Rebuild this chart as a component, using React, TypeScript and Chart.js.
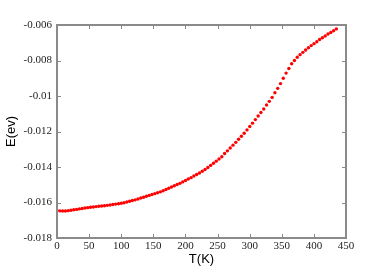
import React, { useEffect, useRef } from "react";
import { Chart, registerables } from "chart.js";

Chart.register(...registerables);

const temperatures: number[] = [
  0, 4.35, 8.7, 13.05, 17.4, 21.75, 26.1, 30.45, 34.8, 39.15,
  43.5, 47.85, 52.2, 56.55, 60.9, 65.25, 69.6, 73.95, 78.3, 82.65,
  87.0, 91.35, 95.7, 100.05, 104.4, 108.75, 113.1, 117.45, 121.8, 126.15,
  130.5, 134.85, 139.2, 143.55, 147.9, 152.25, 156.6, 160.95, 165.3, 169.65,
  174.0, 178.35, 182.7, 187.05, 191.4, 195.75, 200.1, 204.45, 208.8, 213.15,
  217.5, 221.85, 226.2, 230.55, 234.9, 239.25, 243.6, 247.95, 252.3, 256.65,
  261.0, 265.35, 269.7, 274.05, 278.4, 282.75, 287.1, 291.45, 295.8, 300.15,
  304.5, 308.85, 313.2, 317.55, 321.9, 326.25, 330.6, 334.95, 339.3, 343.65,
  348.0, 352.35, 356.7, 361.05, 365.4, 369.75, 374.1, 378.45, 382.8, 387.15,
  391.5, 395.85, 400.2, 404.55, 408.9, 413.25, 417.6, 421.95, 426.3, 430.65,
  435.0,
];

const energies: number[] = [
  -0.01645, -0.01647, -0.01648, -0.01648, -0.01646, -0.01644, -0.01641, -0.01639, -0.01636, -0.01634,
  -0.01631, -0.01629, -0.01627, -0.01625, -0.01623, -0.01621, -0.0162, -0.01618, -0.01616, -0.01614,
  -0.01611, -0.01609, -0.01607, -0.01604, -0.01601, -0.01597, -0.01593, -0.01589, -0.01585, -0.0158,
  -0.01575, -0.0157, -0.01565, -0.0156, -0.01555, -0.0155, -0.01545, -0.0154, -0.01534, -0.01527,
  -0.0152, -0.01513, -0.01506, -0.01499, -0.01492, -0.01484, -0.01476, -0.01468, -0.0146, -0.01451,
  -0.01442, -0.01434, -0.01424, -0.01414, -0.01403, -0.01391, -0.01379, -0.01367, -0.01355, -0.01342,
  -0.01324, -0.01309, -0.01293, -0.01277, -0.01261, -0.01244, -0.01227, -0.0121, -0.01191, -0.01172,
  -0.01153, -0.01133, -0.01113, -0.01093, -0.01073, -0.01051, -0.0103, -0.01008, -0.00982, -0.00957,
  -0.0093, -0.009, -0.00871, -0.00845, -0.00818, -0.008, -0.00782, -0.00767, -0.00754, -0.00741,
  -0.00728, -0.00716, -0.00705, -0.00694, -0.00682, -0.00672, -0.00662, -0.00651, -0.00642, -0.00632,
  -0.00622,
];

const xTicks: number[] = [0, 50, 100, 150, 200, 250, 300, 350, 400, 450];
const yTicks: number[] = [-0.018, -0.016, -0.014, -0.012, -0.01, -0.008, -0.006];
const yTickLabels: string[] = ["-0.018", "-0.016", "-0.014", "-0.012", "-0.01", "-0.008", "-0.006"];
const xTitle = "T(K)";
const yTitle = "E(ev)";

const FRAME = "#8a8a8a";

const framePlugin = {
  id: "frameTicks",
  afterDraw(chart: any) {
    const { ctx, chartArea, scales } = chart;
    const { left, right, top, bottom } = chartArea;
    const tl = 4;
    ctx.save();
    ctx.strokeStyle = FRAME;
    ctx.lineWidth = 1;
    for (const v of xTicks) {
      const x = Math.round(scales.x.getPixelForValue(v)) + 0.5;
      ctx.beginPath();
      ctx.moveTo(x, bottom);
      ctx.lineTo(x, bottom - tl);
      ctx.moveTo(x, top);
      ctx.lineTo(x, top + tl);
      ctx.stroke();
    }
    for (const v of yTicks) {
      const y = Math.round(scales.y.getPixelForValue(v)) + 0.5;
      ctx.beginPath();
      ctx.moveTo(left, y);
      ctx.lineTo(left + tl, y);
      ctx.moveTo(right, y);
      ctx.lineTo(right - tl, y);
      ctx.stroke();
    }
    ctx.lineWidth = 2;
    ctx.strokeRect(left, top, right - left, bottom - top);
    ctx.restore();
  },
};

export default function App() {
  const ref = useRef<HTMLCanvasElement | null>(null);

  useEffect(() => {
    if (!ref.current) return;
    const data = temperatures.map((t, i) => ({ x: t, y: energies[i] }));
    const chart = new Chart(ref.current, {
      type: "scatter",
      data: {
        datasets: [
          {
            data,
            showLine: false,
            pointRadius: 1.7,
            pointHoverRadius: 1.7,
            pointBackgroundColor: "#ff0000",
            pointBorderWidth: 0,
            pointBorderColor: "#ff0000",
          },
        ],
      },
      options: {
        responsive: false,
        animation: false,
        devicePixelRatio: 1,
        layout: { padding: { left: 0, right: 36, top: 25, bottom: 0 } },
        plugins: { legend: { display: false }, tooltip: { enabled: false } },
        scales: {
          x: {
            type: "linear",
            min: 0,
            max: 450,
            grid: { display: false, drawTicks: false },
            border: { display: false },
            afterBuildTicks: (s: any) => {
              s.ticks = xTicks.map((v) => ({ value: v }));
            },
            afterFit: (s: any) => {
              s.height = 30;
            },
            ticks: {
              padding: 2,
              color: "#222",
              font: { family: "Liberation Serif", size: 11 },
              maxRotation: 0,
              autoSkip: false,
              callback: (v: any) => String(v),
            },
            title: {
              display: true,
              text: xTitle,
              color: "#000",
              font: { family: "Liberation Sans", size: 13 },
              padding: { top: 0, bottom: 1 },
            },
          },
          y: {
            type: "linear",
            min: -0.018,
            max: -0.006,
            grid: { display: false, drawTicks: false },
            border: { display: false },
            afterBuildTicks: (s: any) => {
              s.ticks = yTicks.map((v) => ({ value: v }));
            },
            afterFit: (s: any) => {
              s.width = 57;
            },
            ticks: {
              padding: 5,
              color: "#222",
              font: { family: "Liberation Serif", size: 11 },
              autoSkip: false,
              callback: (v: any) => {
                const i = yTicks.findIndex((t) => Math.abs(t - v) < 1e-9);
                return i >= 0 ? yTickLabels[i] : "";
              },
            },
            title: {
              display: true,
              text: yTitle,
              color: "#000",
              font: { family: "Liberation Sans", size: 13 },
              padding: { top: 4, bottom: 0 },
            },
          },
        },
      },
      plugins: [framePlugin],
    });
    return () => chart.destroy();
  }, []);

  return (
    <div style={{ position: "fixed", left: 0, top: 0, width: 382, height: 268, background: "#fff" }}>
      <canvas ref={ref} width={382} height={268} style={{ display: "block" }} />
    </div>
  );
}
